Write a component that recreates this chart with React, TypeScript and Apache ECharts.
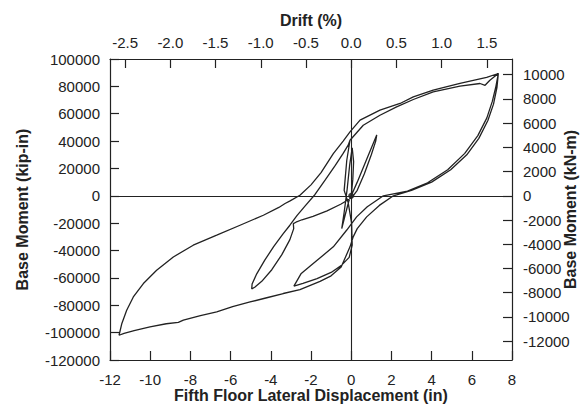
import React, { useEffect, useRef } from "react";
import * as echarts from "echarts";

// unit conversions for the secondary axes
const KIPIN_TO_KNM = 0.113; // kN-m per kip-in
const INCH_PER_PERCENT_DRIFT = 4.5; // inches of displacement per 1 % drift

const xMin = -12;
const xMax = 8;
const yMin = -120000;
const yMax = 100000;

const driftTicks = [-2.5, -2.0, -1.5, -1.0, -0.5, 0.0, 0.5, 1.0, 1.5];
const knmTicks = [-12000, -10000, -8000, -6000, -4000, -2000, 0, 2000, 4000, 6000, 8000, 10000];

// [displacement (in), base moment (kip-in)]
const thinLoop = [
  [0, 0], [0.08, 12000], [0.12, 25000], [0.05, 35000], [-0.08, 22000], [-0.2, 5000],
  [-0.35, -12000], [-0.47, -24000], [-0.3, -14000], [-0.12, -4000], [0, 0],
];
const smallCycle = [
  [0.3, 10000], [0.75, 26000], [1.1, 38500], [1.27, 44500], [1.22, 40000], [1.0, 30000],
  [0.65, 16000], [0.3, 4000], [0.05, -1000],
];
const toLeftLobe = [
  [-0.5, -6000], [-1.2, -11000], [-1.9, -15000], [-2.45, -17500], [-2.75, -19300], [-2.88, -20300],
  [-2.86, -24000], [-3.05, -32000], [-3.45, -43000], [-3.95, -54000], [-4.45, -62500], [-4.8, -66800],
  [-4.95, -68000],
];
const leftLobeReload = [
  [-4.93, -64500], [-4.7, -57000], [-4.3, -47000], [-3.85, -37000], [-3.4, -28000], [-3.05, -21500],
  [-2.7, -14500], [-2.3, -7500], [-1.8, 1000], [-1.3, 11400], [-0.8, 22000], [-0.4, 31000],
  [-0.15, 37000], [-0.06, 40600],
];
const innerUpper = [
  [0.6, 51600], [1.43, 58900], [2.26, 65000], [3.09, 70400], [4.08, 76000], [5.41, 80100],
  [6.41, 82100], [6.66, 80800], [6.9, 84500], [7.32, 89400],
];
const innerUnload = [
  [7.2, 80000], [7.02, 69000], [6.75, 57000], [6.3, 44000], [5.65, 31000], [4.8, 19000],
  [3.8, 9500], [2.8, 3500], [1.6, 0], [0.8, -8000], [0.27, -15400], [-0.22, -25000],
  [-0.89, -37300], [-1.89, -49500], [-2.5, -57000], [-2.85, -66000],
];
const rightLobeReload = [
  [-2.4, -64000], [-1.7, -60500], [-1.0, -56000], [-0.5, -51000], [-0.1, -45000], [0.05, -36000],
  [0.02, -20000], [-0.15, -5000], [-0.35, 4000], [-0.22, 26000], [-0.06, 40600],
];
const outerUnload = [
  [7.25, 79000], [7.08, 67000], [6.8, 55000], [6.35, 42000], [5.75, 30000], [4.95, 19000],
  [4.0, 10000], [3.0, 4000], [2.1, 0], [1.4, -7000], [0.77, -15400], [0.3, -24000],
  [0.1, -30000], [-0.06, -37300], [-0.5, -52000], [-1.0, -58500], [-1.55, -62500], [-2.55, -68500],
];
const lowerEnvelope = [
  [-3.38, -71400], [-4.2, -74500], [-5.03, -77600], [-5.9, -81000], [-6.69, -84900], [-7.5, -87500],
  [-8.35, -90900], [-8.6, -92500], [-9.2, -93500], [-10.01, -95800], [-10.8, -98500],
  [-11.3, -100500], [-11.55, -101900],
];
const bigReload = [
  [-11.41, -93300], [-11.17, -83600], [-10.84, -73900], [-10.34, -64100], [-9.68, -54400],
  [-8.85, -44700], [-7.86, -36100], [-6.69, -28800], [-5.53, -21500], [-4.37, -14200],
  [-3.6, -8500], [-3.29, -5600], [-3.04, -3700], [-2.55, 400], [-2.0, 8000], [-1.5, 17000],
  [-0.89, 30900], [-0.4, 40000], [-0.06, 46700],
];
const outerUpper = [
  [0.44, 55300], [1.43, 62600], [2.43, 67500], [3.09, 72300], [4.08, 77200], [5.41, 82100],
  [6.74, 86500], [7.32, 89400],
];
const origin = [[0, 0]];

const history = [
  ...thinLoop, ...smallCycle, ...toLeftLobe, ...leftLobeReload, ...innerUpper, ...innerUnload,
  ...rightLobeReload, ...innerUpper, ...outerUnload, ...lowerEnvelope, ...bigReload, ...outerUpper,
];

const FONT = "'Liberation Sans', Arial, Helvetica, sans-serif";
const INK = "#222";

const plain = (v: number) => String(v);
const tickLabel = { color: INK, fontFamily: FONT, fontSize: 15 };
const nameStyle = { color: INK, fontFamily: FONT, fontSize: 16, fontWeight: "bold" as const };
const axisLine = { show: true, onZero: false, lineStyle: { color: INK, width: 1.2 } };
const axisTick = { show: true, inside: true, length: 9, lineStyle: { color: INK, width: 1.2 } };

export default function App() {
  const ref = useRef<HTMLDivElement>(null);
  useEffect(() => {
    const chart = echarts.init(ref.current as HTMLDivElement, null, { renderer: "svg" });
    chart.setOption({
      animation: false,
      backgroundColor: "#ffffff",
      grid: { left: 110, right: 75, top: 59, bottom: 46, containLabel: false, outerBoundsMode: "none" },
      xAxis: [
        {
          type: "value",
          position: "bottom",
          min: xMin,
          max: xMax,
          interval: 2,
          axisLine,
          axisTick,
          splitLine: { show: false },
          axisLabel: { ...tickLabel, margin: 12, formatter: plain },
          name: "Fifth Floor Lateral Displacement (in)",
          nameLocation: "middle",
          nameGap: 27,
          nameMoveOverlap: false,
          nameTextStyle: nameStyle,
        },
        {
          type: "value",
          position: "top",
          min: xMin / INCH_PER_PERCENT_DRIFT,
          max: xMax / INCH_PER_PERCENT_DRIFT,
          axisLine,
          axisTick: { ...axisTick, customValues: driftTicks },
          splitLine: { show: false },
          axisLabel: {
            ...tickLabel,
            margin: 9,
            customValues: driftTicks,
            formatter: (v: number) => v.toFixed(1),
          },
          name: "Drift (%)",
          nameLocation: "middle",
          nameGap: 31,
          nameMoveOverlap: false,
          nameTextStyle: nameStyle,
        },
      ],
      yAxis: [
        {
          type: "value",
          position: "left",
          min: yMin,
          max: yMax,
          interval: 20000,
          axisLine,
          axisTick,
          splitLine: { show: false },
          axisLabel: { ...tickLabel, margin: 10, formatter: plain },
          name: "Base Moment (kip-in)",
          nameLocation: "middle",
          nameRotate: 90,
          nameGap: 80,
          nameMoveOverlap: false,
          nameTextStyle: nameStyle,
        },
        {
          type: "value",
          position: "right",
          min: yMin * KIPIN_TO_KNM,
          max: yMax * KIPIN_TO_KNM,
          axisLine,
          axisTick: { ...axisTick, customValues: knmTicks },
          splitLine: { show: false },
          axisLabel: { ...tickLabel, margin: 11, customValues: knmTicks, formatter: plain },
          name: "Base Moment (kN-m)",
          nameLocation: "middle",
          nameRotate: 90,
          nameGap: 50,
          nameMoveOverlap: false,
          nameTextStyle: nameStyle,
        },
      ],
      series: [
        {
          type: "line",
          xAxisIndex: 0,
          yAxisIndex: 0,
          data: history,
          showSymbol: false,
          symbol: "none",
          lineStyle: { color: INK, width: 1.3 },
          silent: true,
          markLine: {
            silent: true,
            symbol: "none",
            label: { show: false },
            lineStyle: { color: INK, width: 1.1, type: "solid" },
            data: [{ xAxis: 0 }, { yAxis: 0 }],
          },
        },
        {
          type: "scatter",
          xAxisIndex: 0,
          yAxisIndex: 0,
          data: origin,
          symbolSize: 6,
          itemStyle: { color: "#111" },
          silent: true,
        },
      ],
    });
    return () => chart.dispose();
  }, []);
  return (
    <div
      ref={ref}
      style={{ position: "fixed", left: 0, top: 0, width: 587, height: 406, background: "#fff" }}
    />
  );
}
